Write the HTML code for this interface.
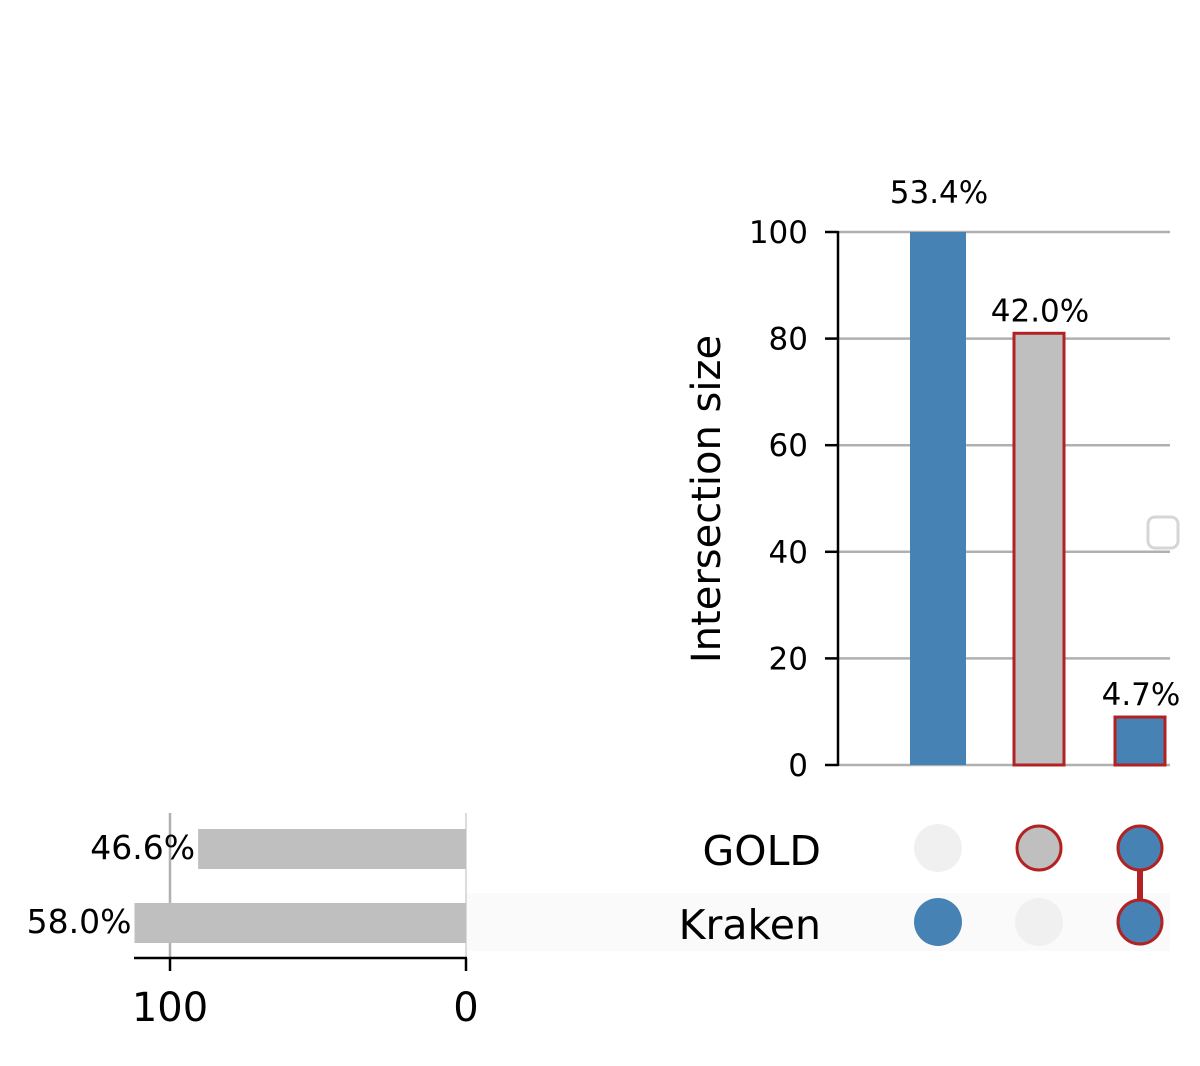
<!DOCTYPE html>
<html><head><meta charset="utf-8"><style>body{margin:0;background:#fff}svg{display:block;font-family:"DejaVu Sans","Liberation Sans",sans-serif}</style></head>
<body>
<svg id="c" width="1200" height="1066" xmlns="http://www.w3.org/2000/svg"></svg>
<script>
const intersections = ["Kraken only","GOLD only","GOLD & Kraken"];
const interValues = [100, 81, 9];
const interLabels = ["53.4%","42.0%","4.7%"];
const interHighlight = [false, true, true];
const interMembership = [[0,1],[1,0],[1,1]]; // [GOLD, Kraken]
const sets = ["GOLD","Kraken"];
const setValues = [90.5, 112];
const setLabels = ["46.6%","58.0%"];
const yTicks = [0,20,40,60,80,100];
const xTicks = [100,0];

const NS="http://www.w3.org/2000/svg", svg=document.getElementById('c');
function el(t,a,txt){const e=document.createElementNS(NS,t);for(const k in a)e.setAttribute(k,a[k]);if(txt!=null)e.textContent=txt;svg.appendChild(e);return e;}
const y=v=>765-v*5.33;
const colX=i=>938+i*101;
const x=v=>466-v*2.96;
const rowY=i=>848+i*74;

let b=el('rect',{x:466,y:893,width:704,height:58,fill:'#fafafa'});



yTicks.forEach(t=>{
  let g=el('line',{x1:838,x2:1170,y1:y(t),y2:y(t),stroke:'#b0b0b0','stroke-width':2.5});
  
  
  el('line',{x1:825,x2:838,y1:y(t),y2:y(t),stroke:'#000','stroke-width':2.5});
  let l=el('text',{x:808,y:y(t)+11,'text-anchor':'end','font-size':31},t);
  
  
});
el('line',{x1:838,x2:838,y1:y(100)-1,y2:766,stroke:'#000','stroke-width':2.5});
let yt=el('text',{x:0,y:0,'text-anchor':'middle','font-size':40,transform:'translate(720,499) rotate(-90)'},'Intersection size');



const maxV=Math.max(...interValues);
interValues.forEach((v,i)=>{
  const hl=interHighlight[i], w=hl?50:56;
  let r=el('rect',{x:colX(i)-w/2,y:y(v),width:w,height:765-y(v),fill:(i==1?'#bfbfbf':'#4682b4'),stroke:hl?'#b22222':'none','stroke-width':3});
  
  
  let t=el('text',{x:colX(i)+1,y:y(v)-(v===maxV?29:12),'text-anchor':'middle','font-size':31},interLabels[i]);
  
  
});

el('line',{x1:170,x2:170,y1:813,y2:958,stroke:'#b0b0b0','stroke-width':2.5});
el('line',{x1:466,x2:466,y1:813,y2:958,stroke:'#d0d0d0','stroke-width':1.5});
setValues.forEach((v,i)=>{
  let r=el('rect',{x:x(v),y:rowY(i)-19,width:466-x(v),height:40,fill:'#bfbfbf'});
  
  
  let t=el('text',{x:x(v)-3,y:rowY(i)+11,'text-anchor':'end','font-size':33},setLabels[i]);
  
  
  let n=el('text',{x:821,y:rowY(i)+17,'text-anchor':'end','font-size':41},sets[i]);
  
  
});
el('line',{x1:134,x2:467,y1:958,y2:958,stroke:'#000','stroke-width':2.5});
xTicks.forEach(t=>{
  el('line',{x1:x(t),x2:x(t),y1:958,y2:971,stroke:'#000','stroke-width':2.5});
  let l=el('text',{x:x(t),y:1021,'text-anchor':'middle','font-size':40},t);
  
  
});

interMembership.forEach((m,i)=>{
  const act=[];
  m.forEach((on,j)=>{if(on)act.push(j);});
  if(act.length>1){
    let ln=el('line',{x1:colX(i),x2:colX(i),y1:rowY(act[0]),y2:rowY(act[act.length-1]),stroke:interHighlight[i]?'#b22222':'#4682b4','stroke-width':6});
    
    
  }
  m.forEach((on,j)=>{
    const hl=interHighlight[i]&&on;
    let fill=on?(i==1?'#bfbfbf':'#4682b4'):'#f0f0f0';
    let c=el('circle',{cx:colX(i),cy:rowY(j),r:hl?22:24,fill:fill,stroke:hl?'#b22222':'none','stroke-width':3});
    
    
  });
});

let lg=el('rect',{x:1148,y:517,width:30,height:31,rx:7,fill:'#fff',stroke:'#d6d6d6','stroke-width':3});


</script>
</body></html>
